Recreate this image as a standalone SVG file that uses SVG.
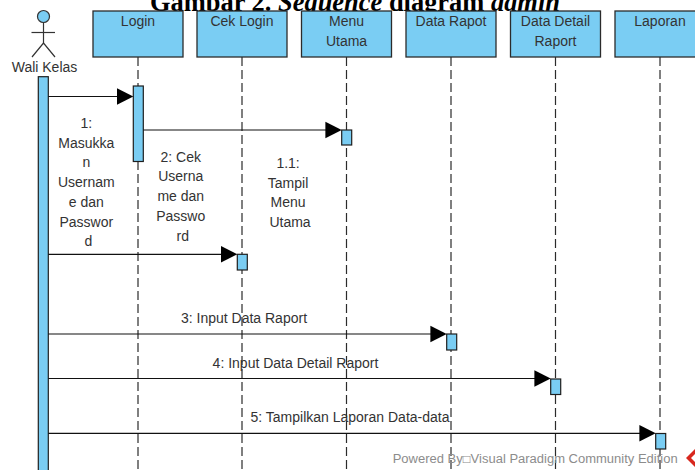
<svg xmlns="http://www.w3.org/2000/svg" width="695" height="470" viewBox="0 0 695 470">
<style>
.box{fill:#7ACDF3;stroke:#2b2b2b;stroke-width:1.3}
.act{fill:#7ACDF3;stroke:#1e1e1e;stroke-width:1.2}
.life{stroke:#2b2b2b;stroke-width:1.2;stroke-dasharray:9 4;fill:none}
.lbl{font-family:"Liberation Sans",Arial,sans-serif;font-size:14px;fill:#333;text-anchor:middle}
.msg{stroke:#111;stroke-width:1.2;fill:none}
.head{fill:#000}
.title{font-family:"Liberation Serif","Times New Roman",serif;font-size:26.5px;font-weight:bold;fill:#000}
.wm{font-family:"Liberation Sans",Arial,sans-serif;font-size:12px;fill:#8c8c8c}
</style>
<rect width="695" height="470" fill="#fff"/>
<text class="title" x="150" y="11" textLength="410" lengthAdjust="spacingAndGlyphs">Gambar 2. <tspan font-style="italic">Sequence</tspan> diagram <tspan font-style="italic">admin</tspan></text>

<g id="actor-wali-kelas">
  <circle cx="43.5" cy="16.5" r="6" fill="#7ACDF3" stroke="#333" stroke-width="1.2"/>
  <line x1="43.5" y1="22.5" x2="43.5" y2="43" stroke="#333" stroke-width="1.2"/>
  <line x1="31.5" y1="32.5" x2="55" y2="32.5" stroke="#333" stroke-width="1.2"/>
  <polyline points="32,57 43.5,43 55,57" fill="none" stroke="#333" stroke-width="1.2"/>
  <text class="lbl" x="44.5" y="72">Wali Kelas</text>
  <rect class="act" x="38.3" y="76.7" width="10" height="400"/>
</g>

<g id="login">
  <line class="life" x1="138" y1="57" x2="138" y2="470"/>
  <rect class="box" x="93" y="11" width="90" height="46"/>
  <text class="lbl" x="138" y="25.5">Login</text>
  <rect class="act" x="133.3" y="86" width="10" height="75.5"/>
</g>

<g id="cek-login">
  <line class="life" x1="242" y1="57" x2="242" y2="470"/>
  <rect class="box" x="197" y="11" width="90" height="46"/>
  <text class="lbl" x="242" y="25.5">Cek Login</text>
  <rect class="act" x="237.3" y="254.3" width="10" height="15.7"/>
</g>

<g id="menu-utama">
  <line class="life" x1="346.5" y1="57" x2="346.5" y2="470"/>
  <rect class="box" x="301.5" y="11" width="90" height="46"/>
  <text class="lbl" x="346.5" y="25.5">Menu</text>
  <text class="lbl" x="346.5" y="45.5">Utama</text>
  <rect class="act" x="341.7" y="130" width="10" height="15"/>
</g>

<g id="data-rapot">
  <line class="life" x1="451" y1="57" x2="451" y2="470"/>
  <rect class="box" x="406" y="11" width="90" height="46"/>
  <text class="lbl" x="451" y="25.5">Data Rapot</text>
  <rect class="act" x="446.7" y="334" width="10" height="16"/>
</g>

<g id="data-detail-raport">
  <line class="life" x1="555.5" y1="57" x2="555.5" y2="470"/>
  <rect class="box" x="510.5" y="11" width="90" height="46"/>
  <text class="lbl" x="555.5" y="25.5">Data Detail</text>
  <text class="lbl" x="555.5" y="45.5">Raport</text>
  <rect class="act" x="550.7" y="379" width="10" height="15.5"/>
</g>

<g id="laporan">
  <line class="life" x1="660" y1="57" x2="660" y2="470"/>
  <rect class="box" x="615" y="11" width="90" height="46"/>
  <text class="lbl" x="660" y="25.5">Laporan</text>
  <rect class="act" x="655.7" y="433.5" width="10" height="15.5"/>
</g>

<g id="connectors">
  <!-- 1 -->
  <line class="msg" x1="48.3" y1="96.5" x2="118" y2="96.5"/>
  <polygon class="head" points="133.3,96.5 117,88.3 117,104.7"/>
  <text class="lbl">
    <tspan x="88.3" y="128">1:</tspan>
    <tspan x="88.3" y="147.7">Masukka</tspan>
    <tspan x="88.3" y="167.4">n</tspan>
    <tspan x="88.3" y="187.1">Usernam</tspan>
    <tspan x="88.3" y="206.8">e dan</tspan>
    <tspan x="88.3" y="226.5">Passwor</tspan>
    <tspan x="88.3" y="246.2">d</tspan>
  </text>
  <!-- 1.1 -->
  <line class="msg" x1="143.3" y1="130" x2="326" y2="130"/>
  <polygon class="head" points="341.7,130 325.4,121.8 325.4,138.2"/>
  <text class="lbl">
    <tspan x="290" y="168">1.1:</tspan>
    <tspan x="290" y="187.7">Tampil</tspan>
    <tspan x="290" y="207.4">Menu</tspan>
    <tspan x="290" y="227">Utama</tspan>
  </text>
  <!-- 2 -->
  <line class="msg" x1="48.3" y1="254.3" x2="222" y2="254.3"/>
  <polygon class="head" points="237.3,254.3 221,246.1 221,262.5"/>
  <text class="lbl">
    <tspan x="182.7" y="161.7">2: Cek</tspan>
    <tspan x="182.7" y="181.4">Userna</tspan>
    <tspan x="182.7" y="201">me dan</tspan>
    <tspan x="182.7" y="220.8">Passwo</tspan>
    <tspan x="182.7" y="240.5">rd</tspan>
  </text>
  <!-- 3 -->
  <line class="msg" x1="48.3" y1="334" x2="431" y2="334"/>
  <polygon class="head" points="446.7,334 430.4,325.8 430.4,342.2"/>
  <text class="lbl" x="244" y="323.3">3: Input Data Raport</text>
  <!-- 4 -->
  <line class="msg" x1="48.3" y1="378.5" x2="535" y2="378.5"/>
  <polygon class="head" points="550.7,378.5 534.4,370.3 534.4,386.7"/>
  <text class="lbl" x="295.5" y="368.3">4: Input Data Detail Raport</text>
  <!-- 5 -->
  <line class="msg" x1="48.3" y1="433.3" x2="640" y2="433.3"/>
  <polygon class="head" points="655.7,433.3 639.4,425.1 639.4,441.5"/>
  <text class="lbl" x="350" y="421.7">5: Tampilkan Laporan Data-data</text>
</g>

<text class="wm" x="392.7" y="462.5" textLength="285" lengthAdjust="spacingAndGlyphs">Powered By□Visual Paradigm Community Edition</text>
<polygon points="695,449 686,458 695,467" fill="#d8281e"/>
<polygon points="695,454 691,458 695,462" fill="#fff"/>
</svg>
